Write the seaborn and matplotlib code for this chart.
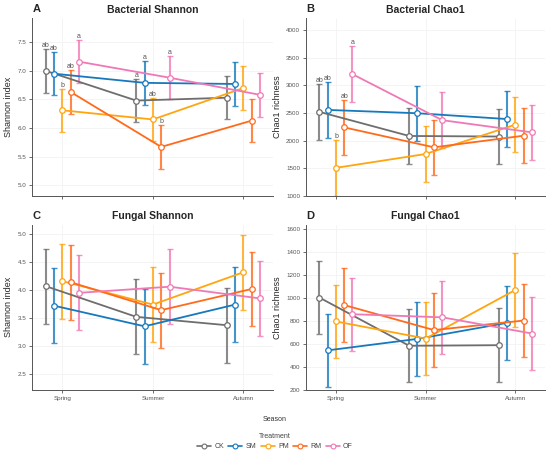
import numpy as np
import pandas as pd
import matplotlib
matplotlib.use('Agg')
import matplotlib.pyplot as plt
from matplotlib.lines import Line2D
import seaborn as sns

seasons = ['Spring', 'Summer', 'Autumn']
treatments = ['CK', 'SM', 'PM', 'RM', 'OF']
colors = ['#6e6e6e', '#1679bd', '#ffa50f', '#ff6a1c', '#ef79b6']

# means per treatment (rows) x season (cols)
bac_shannon = [[7.00, 6.48, 6.53],
               [6.95, 6.79, 6.77],
               [6.31, 6.15, 6.70],
               [6.63, 5.67, 6.13],
               [7.16, 6.88, 6.58]]
bac_shannon_err = 0.38
bac_shannon_letters = {'Spring': ['ab', 'ab', 'b', 'ab', 'a'],
                       'Summer': ['a', 'a', 'ab', 'b', 'a']}

bac_chao1 = [[2520, 2085, 2075],
             [2555, 2495, 2390],
             [1510, 1760, 2290],
             [2240, 1880, 2090],
             [3200, 2370, 2150]]
bac_chao1_err = 500
bac_chao1_letters = {'Spring': ['ab', 'ab', 'b', 'ab', 'a']}

fun_shannon = [[4.07, 3.52, 3.37],
               [3.72, 3.35, 3.74],
               [4.16, 3.74, 4.32],
               [4.14, 3.64, 4.02],
               [3.95, 4.06, 3.85]]
fun_shannon_err = 0.67

fun_chao1 = [[1005, 585, 590],
             [545, 645, 785],
             [797, 648, 1072],
             [940, 722, 805],
             [860, 833, 692]]
fun_chao1_err = 320

sns.set_theme(style='white')
plt.rcParams['font.family'] = ['Liberation Sans', 'DejaVu Sans']

fig = plt.figure(figsize=(5.5, 4.55), dpi=100)
boxes = [[0.059, 0.569, 0.438, 0.391],
         [0.557, 0.569, 0.434, 0.391],
         [0.059, 0.143, 0.438, 0.363],
         [0.557, 0.143, 0.434, 0.363]]

panels = [
    ('A', 'Bacterial Shannon', 'Shannon index', bac_shannon, bac_shannon_err,
     bac_shannon_letters, (4.81, 7.92), [5.0, 5.5, 6.0, 6.5, 7.0, 7.5], '{:.1f}'),
    ('B', 'Bacterial Chao1', 'Chao1 richness', bac_chao1, bac_chao1_err,
     bac_chao1_letters, (1000, 4210), [1000, 1500, 2000, 2500, 3000, 3500, 4000], '{:d}'),
    ('C', 'Fungal Shannon', 'Shannon index', fun_shannon, fun_shannon_err,
     {}, (2.21, 5.17), [2.5, 3.0, 3.5, 4.0, 4.5, 5.0], '{:.1f}'),
    ('D', 'Fungal Chao1', 'Chao1 richness', fun_chao1, fun_chao1_err,
     {}, (200, 1640), [200, 400, 600, 800, 1000, 1200, 1400, 1600], '{:d}'),
]

step = 0.092
offsets = {t: (i - 2) * step for i, t in enumerate(treatments)}

for k, (tag, title, ylab, vals, err, letters, ylim, yticks, fmt) in enumerate(panels):
    ax = fig.add_axes(boxes[k])
    rows = []
    for i, t in enumerate(treatments):
        for j, s in enumerate(seasons):
            rows.append({'Treatment': t, 'Season': s, 'value': vals[i][j],
                         'pos': j + offsets[t]})
    df = pd.DataFrame(rows)

    ax.grid(True, color='#f3f3f3', lw=0.6)
    ax.set_axisbelow(True)

    for t, c in zip(treatments, colors):
        d = df[df.Treatment == t]
        ax.errorbar(d.pos, d.value, yerr=err, fmt='none', ecolor=c,
                    elinewidth=1.5, capsize=2.2, capthick=1.0, alpha=0.8, zorder=2)
        sns.lineplot(data=d, x='pos', y='value', color=c, marker='o', markersize=4,
                     markerfacecolor='white', markeredgecolor=c, markeredgewidth=0.9,
                     lw=1.3, ax=ax, zorder=3)

    for s, labs in letters.items():
        j = seasons.index(s)
        for t, lab in zip(treatments, labs):
            v = vals[treatments.index(t)][j]
            ax.text(j + offsets[t], v + err, lab, ha='center', va='bottom',
                    fontsize=5, color='#555555')

    ax.set_xlim(-0.33, 2.33)
    ax.set_ylim(*ylim)
    ax.set_yticks(yticks)
    ax.set_yticklabels([fmt.format(v) for v in yticks])
    ax.set_xticks(range(3))
    if k >= 2:
        ax.set_xticklabels(seasons)
    else:
        ax.set_xticklabels([])
    ax.set_xlabel('')
    ax.set_ylabel(ylab, fontsize=6.5, labelpad=3)
    ax.tick_params(axis='both', labelsize=4.5, colors='#555555', length=2.5, width=0.6,
                   direction='out', pad=2)
    ax.tick_params(axis='both', bottom=True, left=True)
    for side in ['top', 'right']:
        ax.spines[side].set_visible(False)
    for side in ['left', 'bottom']:
        ax.spines[side].set_color('#555555')
        ax.spines[side].set_linewidth(0.7)
    ax.set_title(title, fontsize=7.5, fontweight='bold', pad=4)
    ax.text(0.0, 1.025, tag, transform=ax.transAxes,
            fontsize=8, fontweight='bold', va='bottom', ha='left')

fig.text(0.5, 0.079, 'Season', ha='center', va='center', fontsize=5, color='#333333')

handles = [Line2D([0], [0], color=c, lw=1.2, marker='o', markersize=3.5,
                  markerfacecolor='white', markeredgecolor=c, markeredgewidth=0.8)
           for c in colors]
leg = fig.legend(handles, treatments, loc='lower center', bbox_to_anchor=(0.5, 0.0),
                 ncol=5, frameon=False, fontsize=5, title='Treatment',
                 title_fontsize=5, handlelength=2.0, columnspacing=0.6,
                 handletextpad=0.5, borderaxespad=0.3)
for txt in leg.get_texts():
    txt.set_color('#444444')
leg.get_title().set_color('#444444')

fig.savefig('out.png', dpi=100)
